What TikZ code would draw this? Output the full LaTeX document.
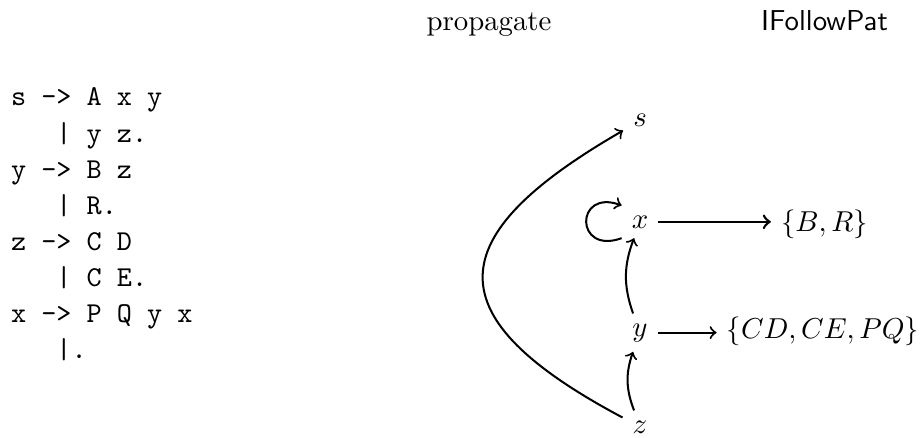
\documentclass[tikz,border=0pt]{standalone}
\begin{document}
\begin{tikzpicture}[x=0.3472pt,y=0.3472pt,
  gram/.style={anchor=base west,inner sep=0pt,font=\ttfamily},
  vert/.style={anchor=base,inner sep=3.33pt},
  edge/.style={->,line width=0.7pt},
  title/.style={anchor=base}]
\useasboundingbox (0,0) rectangle (924,437);
\node[title] (prop) at (489,406.5) {propagate};
\node[title,font=\sffamily] (ifp) at (824.5,406) {IFollowPat};
\node[gram] (g1) at (10.5,331) {s -> A x y};
\node[gram] (g2) at (10.5,295) {\ \ \ | y z.};
\node[gram] (g3) at (10.5,259) {y -> B z};
\node[gram] (g4) at (10.5,223) {\ \ \ | R.};
\node[gram] (g5) at (10.5,187) {z -> C D};
\node[gram] (g6) at (10.5,151) {\ \ \ | C E.};
\node[gram] (g7) at (10.5,115) {x -> P Q y x};
\node[gram] (g8) at (10.5,79) {\ \ \ |.};
\node[vert] (s) at (640,310) {$s$};
\node[vert] (x) at (640,209) {$x$};
\node[vert] (y) at (640,101) {$y$};
\node[vert] (z) at (640,4) {$z$};
\node[vert] (br) at (824.5,206) {$\{B,R\}$};
\node[vert] (cd) at (823,99) {$\{CD,CE,PQ\}$};
\draw[edge] (z) to[bend left=20] (y);
\draw[edge] (y) to[bend left=20] (x);
\draw[edge] (z) to[out=152,in=210,looseness=1.9] (s);
\draw[edge] (x.south west) .. controls +(200:50) and +(160:50) .. (x.north west);
\draw[edge,line width=0.9pt] (x.east) -- (x.east -| br.west);
\draw[edge] (y.east) -- (y.east -| cd.west);
\end{tikzpicture}
\end{document}
